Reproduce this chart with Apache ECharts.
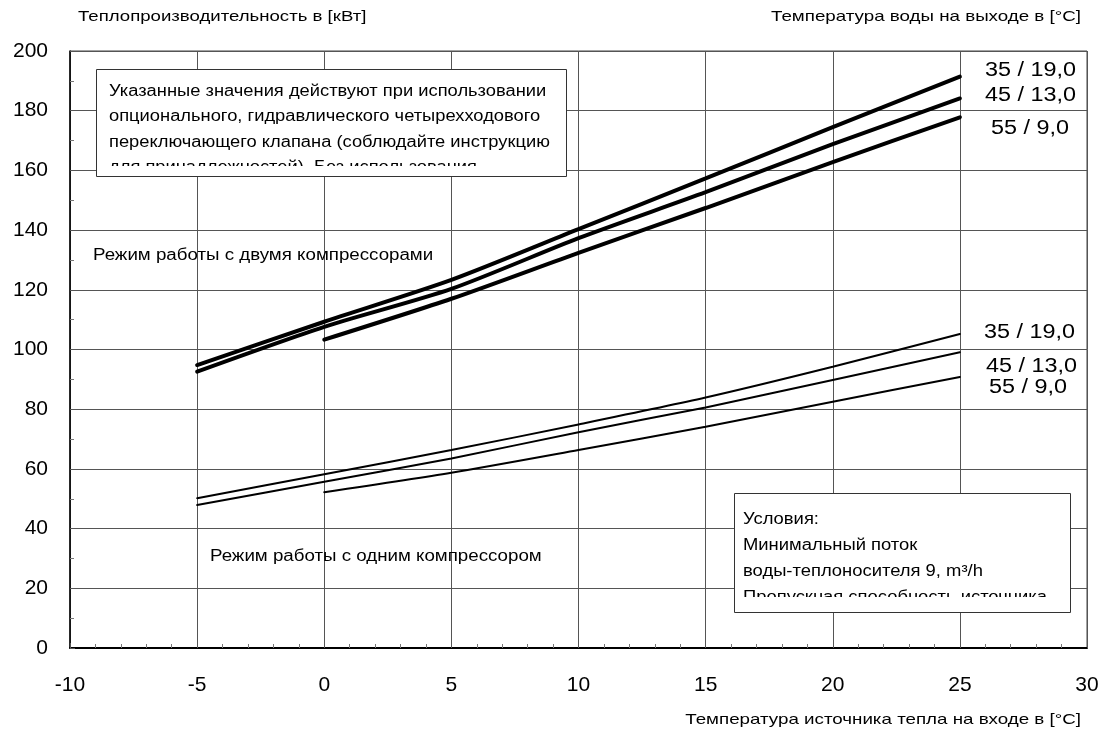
<!DOCTYPE html>
<html>
<head>
<meta charset="utf-8">
<script src="https://cdn.jsdelivr.net/npm/echarts@6/dist/echarts.min.js"></script>
<style>
html,body{margin:0;padding:0;background:#fff;}
#c{width:1102px;height:738px;}
</style>
</head>
<body>
<div id="c"></div>
<script>
// ---- data ----
const xFull = [-5, 0, 5, 10, 15, 20, 25];
const xFrom0 = [0, 5, 10, 15, 20, 25];
// two compressors (thick)
const two35 = [94.8, 109.3, 123.3, 140.3, 157.3, 174.5, 191.4];
const two45 = [92.6, 107.6, 120.3, 137.3, 152.7, 168.8, 184.1];
const two55 = [103.3, 117.0, 132.4, 147.4, 162.8, 177.8];
// one compressor (thin)
const one35 = [50.2, 58.2, 66.3, 74.9, 83.9, 94.2, 105.2];
const one45 = [47.9, 55.7, 63.5, 72.3, 80.6, 89.8, 99.1];
const one55 = [52.2, 58.7, 66.3, 74.1, 82.5, 90.8];
const seriesLabels = ['35 / 19,0', '45 / 13,0', '55 / 9,0'];
const xTicks = [-10, -5, 0, 5, 10, 15, 20, 25, 30];
const yTicks = [0, 20, 40, 60, 80, 100, 120, 140, 160, 180, 200];
const yTitle = 'Теплопроизводительность в [кВт]';
const legendTitle = 'Температура воды на выходе в [°C]';
const xTitle = 'Температура источника тепла на входе в [°C]';
const noteLines = [
  'Указанные значения действуют при использовании',
  'опционального, гидравлического четырехходового',
  'переключающего клапана (соблюдайте инструкцию',
  'для принадлежностей). Без использования'
];
const condLines = [
  'Условия:',
  'Минимальный поток',
  'воды-теплоносителя 9, m³/h',
  'Пропускная способность источника'
];
const modeTwo = 'Режим работы с двумя компрессорами';
const modeOne = 'Режим работы с одним компрессором';

const FONT = '"Liberation Sans", Arial, sans-serif';
const pairs = (xs, ys) => xs.map((x, i) => [x, ys[i]]);

const lineDefs = [
  { xs: xFull, ys: two35, w: 4, label: seriesLabels[0], off: [25, -6] },
  { xs: xFull, ys: two45, w: 4, label: seriesLabels[1], off: [25, -3] },
  { xs: xFrom0, ys: two55, w: 4, label: seriesLabels[2], off: [31, 11] },
  { xs: xFull, ys: one35, w: 2, label: seriesLabels[0], off: [24, -1] },
  { xs: xFull, ys: one45, w: 2, label: seriesLabels[1], off: [26, 14] },
  { xs: xFrom0, ys: one55, w: 2, label: seriesLabels[2], off: [29, 10.5] }
];

function txt(t, x, y, size, sx, align, extra) {
  return Object.assign({
    type: 'text', x: x, y: y, z: 101, scaleX: sx,
    style: { text: t, font: size + 'px ' + FONT, fill: '#000', textAlign: align || 'left', textVerticalAlign: 'middle' }
  }, extra || {});
}

const chart = echarts.init(document.getElementById('c'), null, { renderer: 'canvas' });
chart.setOption({
  animation: false,
  backgroundColor: '#fff',
  grid: { left: 70, top: 51, right: 15, bottom: 90, show: true, borderColor: '#444', borderWidth: 1 },
  xAxis: {
    type: 'value', min: xTicks[0], max: xTicks[xTicks.length - 1], interval: 5,
    axisLine: { show: true, onZero: false, lineStyle: { color: '#000', width: 2 } },
    axisTick: { show: true, inside: true, length: 5, lineStyle: { color: '#555' } },
    minorTick: { show: true, splitNumber: 5, length: 4, lineStyle: { color: '#777' } },
    splitLine: { show: true, lineStyle: { color: '#555', width: 1 } },
    axisLabel: { color: '#000', fontSize: 21, fontFamily: FONT, margin: 27 }
  },
  yAxis: {
    type: 'value', min: yTicks[0], max: yTicks[yTicks.length - 1], interval: 20,
    axisLine: { show: true, onZero: false, lineStyle: { color: '#000', width: 1.5 } },
    axisTick: { show: true, inside: true, length: 5, lineStyle: { color: '#555' } },
    minorTick: { show: true, splitNumber: 2, length: 4, lineStyle: { color: '#777' } },
    splitLine: { show: true, lineStyle: { color: '#555', width: 1 } },
    axisLabel: { color: '#000', fontSize: 21, fontFamily: FONT, margin: 22 }
  },
  series: lineDefs.map((d, i) => ({
    type: 'line', name: 's' + i, data: pairs(d.xs, d.ys),
    showSymbol: false, smooth: 0.25, z: 5,
    lineStyle: { color: '#000', width: d.w, cap: 'round' },
    emphasis: { disabled: true }, silent: true
  })),
  graphic: [
    txt(yTitle, 78, 17, 15, 1.24),
    txt(legendTitle, 1081, 17, 15, 1.25, 'right'),
    txt(xTitle, 1081, 720, 15, 1.25, 'right'),
    txt(modeTwo, 93, 256, 16, 1.17),
    txt(modeOne, 210, 557, 16, 1.17),
    // note box
    { type: 'rect', z: 100, shape: { x: 96.5, y: 69.5, width: 470, height: 107 }, style: { fill: '#fff', stroke: null } },
    { type: 'text', z: 101, x: 109, y: 78.75, scaleX: 1.145, style: { text: noteLines.join('\n'), font: '16px ' + FONT, lineHeight: 25.5, fill: '#000' } },
    { type: 'rect', z: 102, shape: { x: 97, y: 166, width: 469, height: 10 }, style: { fill: '#fff' } },
    { type: 'rect', z: 103, shape: { x: 96.5, y: 69.5, width: 470, height: 107 }, style: { fill: null, stroke: '#333', lineWidth: 1 } },
    // conditions box
    { type: 'rect', z: 100, shape: { x: 734.5, y: 493.5, width: 336, height: 119 }, style: { fill: '#fff', stroke: null } },
    { type: 'text', z: 101, x: 743, y: 506.5, scaleX: 1.15, style: { text: condLines.join('\n'), font: '16px ' + FONT, lineHeight: 26, fill: '#000' } },
    { type: 'rect', z: 102, shape: { x: 735, y: 597, width: 335, height: 15 }, style: { fill: '#fff' } },
    { type: 'rect', z: 103, shape: { x: 734.5, y: 493.5, width: 336, height: 119 }, style: { fill: null, stroke: '#333', lineWidth: 1 } }
  ]
});

// end labels placed from each series' last data point through the axes
const endLabels = lineDefs.map((d, i) => {
  const last = [d.xs[d.xs.length - 1], d.ys[d.ys.length - 1]];
  const p = chart.convertToPixel({ gridIndex: 0 }, last);
  return txt(d.label, p[0] + d.off[0], p[1] + d.off[1], 20, 1.17, 'left', { id: 'end' + i });
});
chart.setOption({ graphic: endLabels });
</script>
</body>
</html>
